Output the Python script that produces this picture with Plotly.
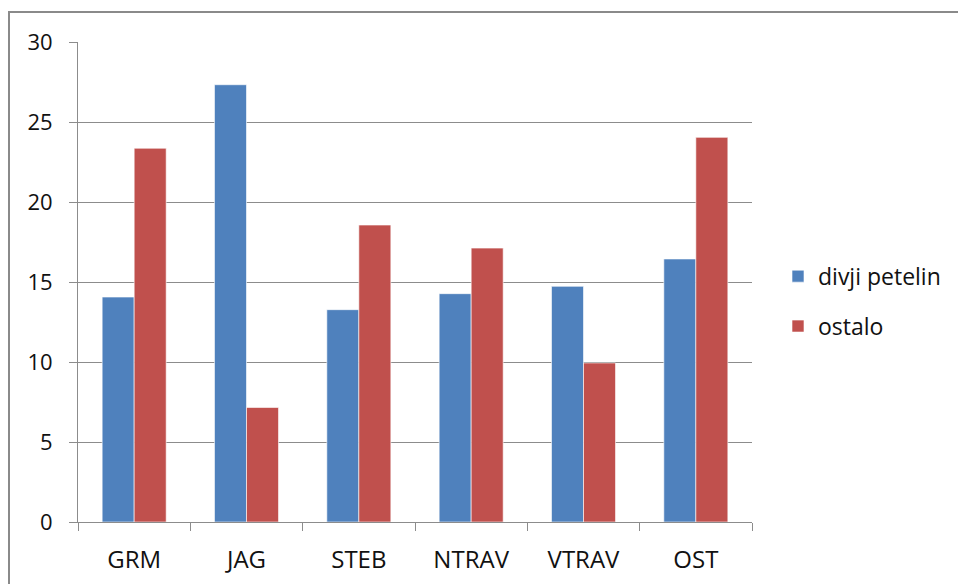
import plotly.graph_objects as go

categories = ["GRM", "JAG", "STEB", "NTRAV", "VTRAV", "OST"]
divji_petelin = [14.06, 27.33, 13.27, 14.27, 14.73, 16.44]
ostalo = [23.36, 7.16, 18.56, 17.12, 9.94, 24.04]
y_ticks = [0, 5, 10, 15, 20, 25, 30]

FONT = "Open Sans"
GRID = "#8c8c8c"

W, H = 958, 584
L, T, PW, PH = 78, 42, 674, 480

fig = go.Figure()
fig.add_trace(go.Bar(
    x=categories, y=divji_petelin, name="divji petelin", legendgroup="a",
    marker=dict(color="#4F81BD", line=dict(color="rgba(255,255,255,0.6)", width=1)),
))
fig.add_trace(go.Bar(
    x=categories, y=ostalo, name="ostalo", legendgroup="b",
    marker=dict(color="#C0504D", line=dict(color="rgba(255,255,255,0.6)", width=1)),
))

fig.update_layout(
    width=W, height=H,
    margin=dict(l=L, r=W - L - PW, t=T, b=H - T - PH),
    paper_bgcolor="white", plot_bgcolor="white",
    barmode="group", bargap=0.43, bargroupgap=0,
    font=dict(family=FONT, size=22, color="#111111"),
    showlegend=True,
    legend=dict(x=(778 - 78) / PW, y=0.46, xanchor="left", yanchor="middle",
                tracegroupgap=17, font=dict(family=FONT, size=23),
                bgcolor="rgba(0,0,0,0)"),
    xaxis=dict(showline=True, linecolor=GRID, linewidth=1, automargin=False,
               ticks="outside", ticklen=8, tickcolor=GRID, tickson="boundaries",
               showgrid=False, ticklabelstandoff=16, tickfont=dict(size=24)),
    yaxis=dict(range=[0, 30], tickvals=y_ticks, showline=True, linecolor=GRID, linewidth=1,
               automargin=False,
               ticks="outside", ticklen=8, tickcolor=GRID,
               showgrid=True, gridcolor=GRID, gridwidth=1, zeroline=False,
               ticklabelstandoff=12, tickfont=dict(size=22)),
)

fig.add_shape(type="rect", xref="paper", yref="paper",
              x0=(9 - L) / PW, x1=(1100 - L) / PW,
              y0=-0.4, y1=(522 - 12) / PH,
              line=dict(color="#8a8a8a", width=2), layer="below")

fig.write_html(
    "out.html",
    config={"displayModeBar": False},
    post_script="document.body.style.margin='0';document.documentElement.style.overflow='hidden';",
)
